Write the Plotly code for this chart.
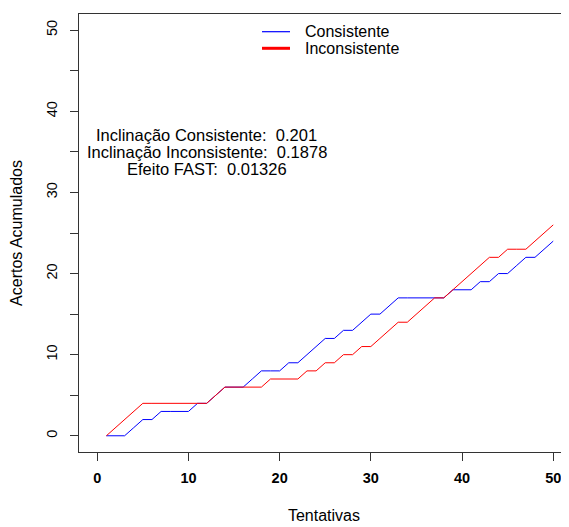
import plotly.graph_objects as go

# tentativas 1..50 e acertos acumulados
tentativas = list(range(1, 51))
consistente = [0, 0, 0, 1, 2, 2, 3, 3, 3, 3,
               4, 4, 5, 6, 6, 6, 7, 8, 8, 8,
               9, 9, 10, 11, 12, 12, 13, 13, 14, 15,
               15, 16, 17, 17, 17, 17, 17, 17, 18, 18,
               18, 19, 19, 20, 20, 21, 22, 22, 23, 24]
inconsistente = [0, 1, 2, 3, 4, 4, 4, 4, 4, 4,
                 4, 4, 5, 6, 6, 6, 6, 6, 7, 7,
                 7, 7, 8, 8, 9, 9, 10, 10, 11, 11,
                 12, 13, 14, 14, 15, 16, 17, 17, 18, 19,
                 20, 21, 22, 22, 23, 23, 23, 24, 25, 26]

incl_cons = 0.201
incl_inc = 0.1878
efeito_fast = 0.01326

series = ["Consistente", "Inconsistente"]
cores = ["#0000FF", "#FF0000"]

y_ticks = list(range(0, 51, 5))
y_text = [str(v) if v % 10 == 0 else "" for v in y_ticks]
x_ticks = list(range(0, 51, 10))

FONTE = "Liberation Sans, Arial, sans-serif"

fig = go.Figure()
fig.add_trace(go.Scatter(x=tentativas, y=consistente, mode="lines", name=series[0],
                         line=dict(color=cores[0], width=1), showlegend=False))
fig.add_trace(go.Scatter(x=tentativas, y=inconsistente, mode="lines", name=series[1],
                         line=dict(color=cores[1], width=1), showlegend=False))

# legenda desenhada à mão (estilo R, sem caixa)
leg_y = [0.9596, 0.9217]
leg_w = [1.2, 3]
for nome, cor, yy, w in zip(series, cores, leg_y, leg_w):
    fig.add_shape(type="line", xref="paper", yref="paper",
                  x0=0.3735, x1=0.4306, y0=yy, y1=yy,
                  line=dict(color=cor, width=w))
    fig.add_annotation(xref="paper", yref="paper", x=0.457, y=yy, text=nome,
                       xanchor="left", yanchor="middle", showarrow=False,
                       font=dict(size=16, color="black"))

linhas = ["Inclinação Consistente:\u00a0\u00a0%s" % incl_cons,
          "Inclinação Inconsistente:\u00a0\u00a0%s" % incl_inc,
          "Efeito FAST:\u00a0\u00a0%s" % efeito_fast]
for i, t in enumerate(linhas):
    fig.add_annotation(x=12, y=35 + 2.06 * (1 - i), text=t, showarrow=False,
                       font=dict(size=16.5, color="black"))

fig.update_layout(
    width=561, height=519,
    margin=dict(l=71, r=0, t=6, b=75),
    paper_bgcolor="white", plot_bgcolor="white",
    font=dict(family=FONTE, color="black"),
    showlegend=False,
    xaxis=dict(range=[-2, 51.73], tickvals=x_ticks, ticks="outside", ticklen=8,
               tickcolor="#333", showline=True, linecolor="#333", mirror=True,
               showgrid=False, zeroline=False, ticklabelstandoff=5, automargin=False,
               tickfont=dict(size=14.5, family=FONTE, weight="bold"),
               title=dict(text="Tentativas", font=dict(size=16), standoff=24)),
    yaxis=dict(range=[-2, 52], tickvals=y_ticks, ticktext=y_text, ticks="outside",
               ticklen=8, tickcolor="#333", tickangle=-90, showline=True,
               linecolor="#333", mirror=True, showgrid=False, zeroline=False,
               ticklabelstandoff=7, tickfont=dict(size=14.5), automargin=False,
               title=dict(text="Acertos Acumulados", font=dict(size=16), standoff=17)),
)

fig.write_html("out.html")
